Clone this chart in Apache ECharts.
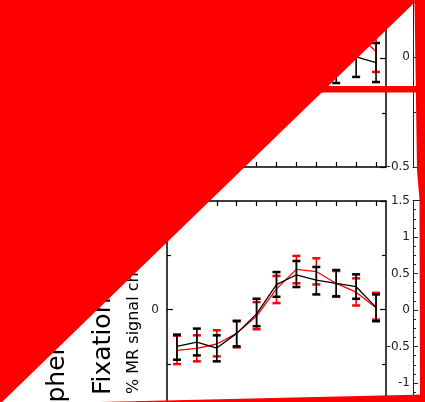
<!DOCTYPE html>
<html><head><meta charset="utf-8">
<style>html,body{margin:0;padding:0;background:#fff}#c{width:425px;height:402px}</style>
<script src="https://cdn.jsdelivr.net/npm/echarts@6/dist/echarts.min.js"></script>
</head><body><div id="c"></div>
<script>
// ---- data ----
const categories = ['0','1','2','3','4','5','6','7','8','9','10'];
// bottom panel
const blackMean = [-0.34, -0.30, -0.355, -0.22, -0.04, 0.23, 0.32, 0.27, 0.24, 0.21, 0.02];
const blackLow  = [-0.463, -0.423, -0.478, -0.34, -0.154, 0.117, 0.207, 0.139, 0.123, 0.099, -0.108];
const blackHigh = [-0.231, -0.176, -0.238, -0.108, 0.099, 0.345, 0.447, 0.392, 0.364, 0.324, 0.139];
const redMean   = [-0.377, -0.358, -0.318, -0.22, -0.06, 0.19, 0.37, 0.35, 0.24, 0.16, 0.016];
const redLow    = [-0.503, -0.478, -0.432, -0.349, -0.182, 0.059, 0.241, 0.231, 0.117, 0.037, -0.093];
const redHigh   = [-0.241, -0.238, -0.191, -0.102, 0.068, 0.309, 0.494, 0.472, 0.355, 0.287, 0.154];
// top panel (only the right end is visible)
const topBlackMean = [null, null, null, null, null, null, null, null, -0.04, 0.014, -0.037];
const topBlackLow  = [null, null, null, null, null, null, null, null, -0.226, -0.17, -0.217];
const topBlackHigh = [null, null, null, null, null, null, null, null, 0.15, 0.198, 0.143];
const topRedMean   = [null, null, null, null, null, null, null, null, null, 0.235, 0.065];
const topRedLow    = [null, null, null, null, null, null, null, null, null, 0.05, -0.124];
const topRedHigh   = [null, null, null, null, null, null, null, null, null, 0.42, 0.25];
// axis labels
const leftTicks = [-1, 0, 1];
const titleText = '% MR signal change';
const condText = 'Fixation';
const groupText = 'Hemisphere';

const FONT = 'DejaVu Sans';
const RED = '#ff0000';
const BLACK = '#000000';

function errData(lo, hi) {
  const out = [];
  categories.forEach((c, i) => { if (lo[i] != null && hi[i] != null) out.push([i, lo[i], hi[i]]); });
  return out;
}
function errRender(color) {
  return function (params, api) {
    const x = api.value(0);
    const p1 = api.coord([x, api.value(2)]);
    const p2 = api.coord([x, api.value(1)]);
    const w = 4;
    return {
      type: 'group',
      children: [
        { type: 'line', shape: { x1: p1[0], y1: p1[1], x2: p2[0], y2: p2[1] }, style: { stroke: color, lineWidth: 1.6 } },
        { type: 'line', shape: { x1: p1[0] - w, y1: p1[1], x2: p1[0] + w, y2: p1[1] }, style: { stroke: color, lineWidth: 2.5 } },
        { type: 'line', shape: { x1: p2[0] - w, y1: p2[1], x2: p2[0] + w, y2: p2[1] }, style: { stroke: color, lineWidth: 2.5 } }
      ]
    };
  };
}

const boxLine = { show: true, onZero: false, lineStyle: { color: BLACK, width: 1.5 } };
function catAxis(grid, pos) {
  return {
    type: 'category', gridIndex: grid, position: pos, data: categories, boundaryGap: true,
    axisLine: boxLine, axisTick: { show: true, inside: true, alignWithLabel: true, length: 5, lineStyle: { color: BLACK, width: 1.2 } },
    axisLabel: { show: false }, splitLine: { show: false }
  };
}
function valAxis(grid, pos, showLabel) {
  return {
    type: 'value', gridIndex: grid, position: pos, min: -1, max: 1, interval: 1,
    axisLine: boxLine,
    axisTick: { show: true, inside: true, length: 6, lineStyle: { color: BLACK, width: 1.2 } },
    minorTick: { show: true, splitNumber: 2, length: 4, lineStyle: { color: BLACK, width: 1.2 } },
    axisLabel: { show: showLabel, margin: 8, color: '#222', fontFamily: FONT, fontSize: 12,
      formatter: v => (leftTicks.indexOf(v) >= 0 ? String(v) : '') },
    splitLine: { show: false }
  };
}
const nbLine = { show: true, onZero: false, lineStyle: { color: '#222', width: 1 } };
function plainX(grid, pos) {
  return { type: 'value', gridIndex: grid, position: pos, min: 0, max: 1,
    axisLine: nbLine, axisTick: { show: false }, axisLabel: { show: false }, splitLine: { show: false } };
}
function nbY(grid, min, max, interval, split) {
  return {
    type: 'value', gridIndex: grid, position: 'left', min: min, max: max, interval: interval,
    axisLine: nbLine,
    axisTick: { show: true, inside: true, length: 5, lineStyle: { color: '#222', width: 1 } },
    minorTick: { show: true, splitNumber: split, length: 3, lineStyle: { color: '#222', width: 1 } },
    axisLabel: { show: true, margin: 3, color: '#222', fontFamily: FONT, fontSize: 12, hideOverlap: false },
    splitLine: { show: false }
  };
}

const chart = echarts.init(document.getElementById('c'), null, { renderer: 'canvas' });
chart.setOption({
  animation: false,
  backgroundColor: '#ffffff',
  textStyle: { fontFamily: FONT },
  grid: [
    { left: 167, top: -50, width: 219, height: 217, outerBoundsMode: 'none' },
    { left: 167, top: 201, width: 219, height: 217, outerBoundsMode: 'none' },
    { left: 413, top: -53, width: 200, height: 220, outerBoundsMode: 'none' },
    { left: 413, top: 200.5, width: 200, height: 219, outerBoundsMode: 'none' }
  ],
  xAxis: [
    catAxis(0, 'bottom'), catAxis(0, 'top'),
    catAxis(1, 'bottom'), catAxis(1, 'top'),
    plainX(2, 'bottom'), plainX(3, 'top')
  ],
  yAxis: [
    valAxis(0, 'left', true), valAxis(0, 'right', false),
    valAxis(1, 'left', true), valAxis(1, 'right', false),
    nbY(2, -0.5, 0.5, 0.5, 2),
    nbY(3, -1.5, 1.5, 0.5, 4)
  ],
  series: [
    // top panel
    { type: 'line', xAxisIndex: 0, yAxisIndex: 0, data: topRedMean, showSymbol: false, symbol: 'none',
      lineStyle: { color: RED, width: 1.3 }, itemStyle: { color: RED }, connectNulls: false, z: 2 },
    { type: 'custom', xAxisIndex: 0, yAxisIndex: 0, data: errData(topRedLow, topRedHigh), renderItem: errRender(RED), z: 3 },
    { type: 'line', xAxisIndex: 0, yAxisIndex: 0, data: topBlackMean, showSymbol: false, symbol: 'none',
      lineStyle: { color: BLACK, width: 1.3 }, itemStyle: { color: BLACK }, connectNulls: false, z: 4 },
    { type: 'custom', xAxisIndex: 0, yAxisIndex: 0, data: errData(topBlackLow, topBlackHigh), renderItem: errRender(BLACK), z: 5 },
    // bottom panel
    { type: 'line', xAxisIndex: 2, yAxisIndex: 2, data: redMean, showSymbol: false, symbol: 'none',
      lineStyle: { color: RED, width: 1.3 }, itemStyle: { color: RED }, z: 2 },
    { type: 'custom', xAxisIndex: 2, yAxisIndex: 2, data: errData(redLow, redHigh), renderItem: errRender(RED), z: 3 },
    { type: 'line', xAxisIndex: 2, yAxisIndex: 2, data: blackMean, showSymbol: false, symbol: 'none',
      lineStyle: { color: BLACK, width: 1.3 }, itemStyle: { color: BLACK }, z: 4 },
    { type: 'custom', xAxisIndex: 2, yAxisIndex: 2, data: errData(blackLow, blackHigh), renderItem: errRender(BLACK), z: 5 }
  ],
  graphic: [
    { type: 'text', x: 134, y: 394, rotation: Math.PI / 2, z: 50,
      style: { text: titleText, fontFamily: FONT, fontSize: 16, fill: BLACK, align: 'left', verticalAlign: 'middle' } },
    { type: 'text', x: 103, y: 395, rotation: Math.PI / 2, z: 50,
      style: { text: condText, fontFamily: FONT, fontSize: 25, fill: BLACK, align: 'left', verticalAlign: 'middle' } },
    { type: 'text', x: 57.5, y: 481, rotation: Math.PI / 2, z: 50,
      style: { text: groupText, fontFamily: FONT, fontSize: 25, fill: BLACK, align: 'left', verticalAlign: 'middle' } },
    // red marks drawn over the figure
    { type: 'polygon', z: 100, shape: { points: [[0, 0], [415, 0], [412, 5], [0, 404]] }, style: { fill: RED } },
    { type: 'polygon', z: 100, shape: { points: [[414.5, 0], [425, 0], [425, 402], [420, 402], [419.5, 200], [417, 170]] }, style: { fill: RED } },
    { type: 'polygon', z: 100, shape: { points: [[300, 86], [417, 86], [417, 92.5], [300, 92.5]] }, style: { fill: RED } },
    { type: 'polygon', z: 100, shape: { points: [[100, 402], [425, 394.5], [425, 402]] }, style: { fill: RED } }
  ]
});
</script>
</body></html>
